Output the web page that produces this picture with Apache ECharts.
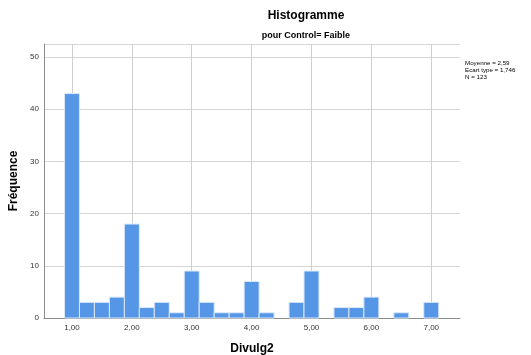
<!DOCTYPE html>
<html><head><meta charset="utf-8">
<script src="https://cdn.jsdelivr.net/npm/echarts@6/dist/echarts.min.js"></script>
<style>html,body{margin:0;padding:0;background:#fff;}#c{width:531px;height:355px;}</style>
</head><body><div id="c"></div>
<script>
const binCenters = [1.00,1.25,1.50,1.75,2.00,2.25,2.50,2.75,3.00,3.25,3.50,3.75,4.00,4.25,4.50,4.75,5.00,5.25,5.50,5.75,6.00,6.25,6.50,6.75,7.00];
const frequencies = [43,3,3,4,18,2,3,1,9,3,1,1,7,1,0,3,9,0,2,2,4,0,1,0,3];
const binWidth = 0.25;
const xTicks = [1,2,3,4,5,6,7];
const yTicks = [0,10,20,30,40,50];
const statsLines = ['Moyenne = 2,59','Ecart type = 1,746','N = 123'];

const fmt = v => v.toFixed(2).replace('.', ',');
const chart = echarts.init(document.getElementById('c'), null, {renderer:'canvas'});
const font = 'Arial, "Liberation Sans", sans-serif';
chart.setOption({
  animation:false,
  backgroundColor:'#fff',
  graphic:[
    {type:'text', x:306, y:16, style:{text:'Histogramme', font:'bold 12px '+font, fill:'#000', align:'center', verticalAlign:'middle'}},
    {type:'text', x:306, y:36, style:{text:'pour Control= Faible', font:'bold 9px '+font, fill:'#000', align:'center', verticalAlign:'middle'}},
    {type:'text', x:465, y:59.5, style:{text:statsLines.join('\n'), font:'6.2px '+font, fill:'#000', lineHeight:7}}
  ],
  grid:{left:44, right:71, top:44, bottom:37, outerBoundsMode:'none', containLabel:false},
  xAxis:{type:'value', min:0.533, max:7.48,
    name:'Divulg2', nameLocation:'middle', nameGap:25,
    nameTextStyle:{fontFamily:font,fontSize:12,fontWeight:'bold',color:'#000'},
    axisLine:{show:true,lineStyle:{color:'#8c8c8c',width:1}},
    axisTick:{show:false, customValues:xTicks},
    axisLabel:{customValues:xTicks, formatter:fmt, fontFamily:font, fontSize:8, color:'#333', margin:6},
    splitLine:{show:true, lineStyle:{color:'#cfcfcf',width:1}}
  },
  yAxis:{type:'value', min:0, max:52.5, interval:10,
    name:'Fréquence', nameLocation:'middle', nameGap:19,
    nameTextStyle:{fontFamily:font,fontSize:12,fontWeight:'bold',color:'#000'},
    axisLine:{show:true,lineStyle:{color:'#8c8c8c',width:1}},
    axisTick:{show:false},
    axisLabel:{fontFamily:font,fontSize:8,color:'#333',margin:5, customValues:yTicks},
    splitLine:{show:true, lineStyle:{color:'#d6d6d6',width:1}}
  },
  series:[{type:'custom', data:binCenters.map((c,i)=>[c,frequencies[i]]),
    renderItem:function(params, api){
      const c = api.value(0), f = api.value(1);
      if(!f) return;
      const p0 = api.coord([c-binWidth/2, f]);
      const p1 = api.coord([c+binWidth/2, 0]);
      return {type:'rect', shape:{x:p0[0], y:p0[1], width:p1[0]-p0[0], height:p1[1]-p0[1]},
        style:{fill:'#5596e6', stroke:'#dbe8fa', lineWidth:1}};
    }
  }]
});
</script></body></html>
